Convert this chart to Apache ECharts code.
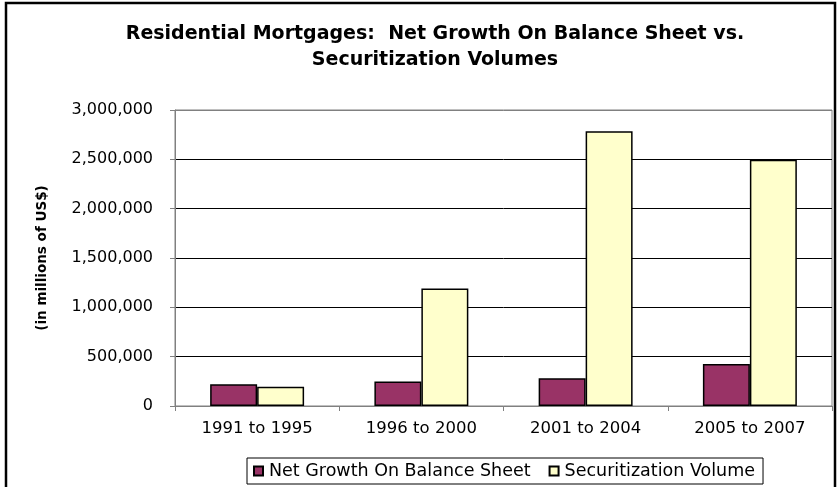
<!DOCTYPE html>
<html>
<head>
<meta charset="utf-8">
<script src="https://cdn.jsdelivr.net/npm/echarts@6/dist/echarts.min.js"></script>
<style>
  html, body { margin: 0; padding: 0; background: #fff; }
  #chart { width: 838px; height: 487px; }
</style>
</head>
<body>
<div id="chart"></div>
<script>
const periods = ['1991 to 1995', '1996 to 2000', '2001 to 2004', '2005 to 2007']
const netGrowth = [220000, 248000, 280000, 425000]
const securitization = [195000, 1190000, 2785000, 2495000]
const yTicks = [0, 500000, 1000000, 1500000, 2000000, 2500000, 3000000]

// the original text is wide, DejaVu gets closer than Liberation
const FONT = 'DejaVu Sans, Liberation Sans, sans-serif'
const fmt = v => v.toLocaleString('en-US')

const chart = echarts.init(document.getElementById('chart'), null, { renderer: 'canvas' })
chart.setOption({
  backgroundColor: '#fff',
  animation: false,
  title: {
    text: 'Residential Mortgages:  Net Growth On Balance Sheet vs.\nSecuritization Volumes',
    left: 430, top: 16, textAlign: 'center',
    textStyle: { fontFamily: FONT, fontSize: 19, fontWeight: 'bold', color: '#000', lineHeight: 26 },
  },
  graphic: [
    { type: 'rect', shape: { x: 6, y: 3, width: 829, height: 520 }, style: { fill: 'none', stroke: '#000', lineWidth: 2.5 }, z: 100 },
  ],
  grid: { left: 175, right: 6, top: 110, bottom: 81, show: true, borderColor: '#808080', borderWidth: 1 },
  legend: {
    left: 247, top: 458,
    padding: [4, 8, 4, 6],
    borderColor: '#000', borderWidth: 1,
    itemWidth: 9, itemHeight: 9, itemGap: 18,
    icon: 'rect',
    textStyle: { fontFamily: FONT, fontSize: 17.5, color: '#000', padding: [0, 0, 0, 1] },
  },
  xAxis: {
    type: 'category', data: periods,
    axisLine: { lineStyle: { color: '#808080' } },
    axisTick: { show: true, length: 5, lineStyle: { color: '#808080' } },
    axisLabel: { fontFamily: FONT, fontSize: 16.5, color: '#000', margin: 14 },
  },
  yAxis: {
    type: 'value', min: 0, max: 3000000, interval: 500000,
    name: '(in millions of US$)', nameLocation: 'middle', nameGap: 126, nameRotate: 90,
    nameTextStyle: { fontFamily: FONT, fontSize: 13.5, fontWeight: 'bold', color: '#000' },
    axisLine: { show: true, lineStyle: { color: '#808080' } },
    axisTick: { show: true, length: 5, lineStyle: { color: '#808080' } },
    axisLabel: { fontFamily: FONT, fontSize: 16, color: '#000', margin: 22, formatter: v => yTicks.includes(v) ? fmt(v) : '' },
    splitLine: { lineStyle: { color: ['#808080', '#000', '#000', '#000', '#000', '#000', '#808080'] } },
  },
  series: [
    { name: 'Net Growth On Balance Sheet', type: 'bar', data: netGrowth, barWidth: '28.6%', barGap: '0%',
      itemStyle: { color: '#993366', borderColor: '#000', borderWidth: 1.5 } },
    { name: 'Securitization Volume', type: 'bar', data: securitization, barWidth: '28.6%', barGap: '0%',
      itemStyle: { color: '#FFFFCC', borderColor: '#000', borderWidth: 1.5 } },
  ],
})
</script>
</body>
</html>
